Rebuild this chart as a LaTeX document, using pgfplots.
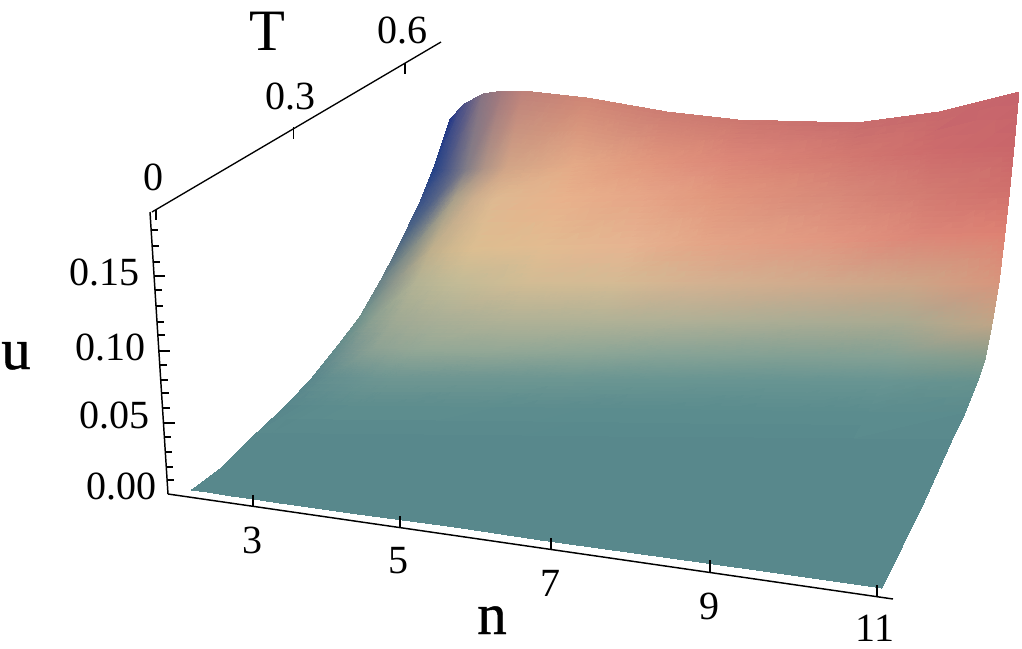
\documentclass[border=0pt]{standalone}
\usepackage{pgfplots}
\pgfplotsset{compat=1.18}
\usepackage{fontspec}
\setmainfont{Liberation Serif}
\newfontfamily\boldish[FakeBold=0.8]{Liberation Serif}
\newcommand{\tl}{\fontsize{30}{36}\selectfont}
\newcommand{\al}{\fontsize{44}{50}\selectfont}
\begin{document}
\begin{tikzpicture}[x=1pt,y=1pt]
\useasboundingbox (0,0) rectangle (766.5,486.75);
\begin{axis}[
  at={(0,0)},anchor=south west,
  scale only axis,width=766.5pt,height=486.75pt,
  xmin=0,xmax=1022,ymin=0,ymax=649,y dir=reverse,
  view={0}{90},hide axis,clip=false,
  unbounded coords=jump,
]
\addplot3[surf,shader=interp,mesh/color input=explicit,mesh/rows=12,mesh/cols=11,mesh/ordering=x varies]
 table[x=x,y=y,z=z,meta=c]{
x y z c
192 490 0 rgb255=86,134,139
208 492 0 rgb255=86,134,139
232 496 0 rgb255=86,134,139
254 499 0 rgb255=86,134,139
280 503 0 rgb255=86,134,139
358 514 0 rgb255=86,134,139
455 527 0 rgb255=86,134,139
541 540 0 rgb255=86,134,139
685 560 0 rgb255=86,134,139
785 574 0 rgb255=86,134,139
882 588 0 rgb255=86,134,139
223 467 0 rgb255=88,136,140
239 468 0 rgb255=88,136,140
264 469 0 rgb255=88,136,140
286 470 0 rgb255=88,136,140
313 471 0 rgb255=88,136,140
392 475 0 rgb255=88,136,140
490 480 0 rgb255=88,136,140
578 484 0 rgb255=88,136,140
725 491 0 rgb255=88,136,140
826 495 0 rgb255=88,136,140
925 500 0 rgb255=88,136,140
257 433 0 rgb255=88,136,140
273 433 0 rgb255=88,136,140
297 433 0 rgb255=88,136,140
320 434 0 rgb255=88,136,140
346 434 0 rgb255=88,136,140
424 435 0 rgb255=88,136,140
522 436 0 rgb255=88,136,140
609 437 0 rgb255=88,136,140
754 438 0 rgb255=88,136,140
854 439 0 rgb255=88,136,140
952 440 0 rgb255=88,136,140
287 405 0 rgb255=88,135,140
303 405 0 rgb255=90,138,141
326 405 0 rgb255=92,140,142
348 406 0 rgb255=93,141,142
374 406 0 rgb255=93,141,142
450 407 0 rgb255=93,141,142
545 408 0 rgb255=92,140,142
630 409 0 rgb255=91,140,142
772 411 0 rgb255=91,140,142
869 412 0 rgb255=91,140,142
965 413 0 rgb255=90,138,141
313 377 0 rgb255=90,135,140
328 377 0 rgb255=98,142,143
352 377 0 rgb255=104,146,145
373 378 0 rgb255=108,149,146
398 378 0 rgb255=110,150,146
473 378 0 rgb255=110,150,146
566 379 0 rgb255=108,150,146
649 380 0 rgb255=105,149,146
788 381 0 rgb255=103,148,146
883 382 0 rgb255=103,148,146
977 383 0 rgb255=100,145,142
337 347 0 rgb255=100,140,140
352 347 0 rgb255=120,150,145
375 348 0 rgb255=140,162,148
395 348 0 rgb255=145,165,149
420 349 0 rgb255=148,168,150
493 350 0 rgb255=148,168,150
584 352 0 rgb255=142,166,150
665 354 0 rgb255=135,163,150
800 356 0 rgb255=130,160,148
894 358 0 rgb255=130,160,148
985 360 0 rgb255=130,155,140
360 317 0 rgb255=110,145,140
375 317 0 rgb255=140,160,145
397 317 0 rgb255=160,170,148
417 318 0 rgb255=165,172,149
441 318 0 rgb255=170,175,150
513 318 0 rgb255=178,178,150
601 319 0 rgb255=178,178,150
680 320 0 rgb255=176,176,150
813 321 0 rgb255=170,172,148
904 321 0 rgb255=170,170,145
992 324 0 rgb255=190,165,135
380 282 0 rgb255=105,130,135
394 282 0 rgb255=140,150,140
416 282 0 rgb255=178,178,148
436 282 0 rgb255=187,183,149
459 282 0 rgb255=195,187,150
529 282 0 rgb255=210,188,148
616 282 0 rgb255=212,187,148
693 282 0 rgb255=212,178,145
823 283 0 rgb255=208,170,140
912 283 0 rgb255=205,165,135
999 283 0 rgb255=215,150,125
397 250 0 rgb255=85,110,130
411 250 0 rgb255=130,140,135
432 249 0 rgb255=190,175,140
452 249 0 rgb255=207,184,143
475 248 0 rgb255=220,190,145
544 246 0 rgb255=226,188,145
629 244 0 rgb255=230,180,145
705 241 0 rgb255=228,165,135
832 238 0 rgb255=225,150,128
919 235 0 rgb255=220,135,120
1005 233 0 rgb255=222,130,115
421 200 0 rgb255=55,80,135
435 200 0 rgb255=85,100,135
455 199 0 rgb255=170,160,138
474 199 0 rgb255=205,175,142
496 198 0 rgb255=222,185,145
563 197 0 rgb255=232,178,140
645 195 0 rgb255=230,165,135
719 193 0 rgb255=225,150,125
842 191 0 rgb255=215,135,120
927 189 0 rgb255=210,122,113
1010 187 0 rgb255=208,112,108
433 170 0 rgb255=35,65,135
446 169 0 rgb255=70,85,135
467 169 0 rgb255=130,125,135
485 168 0 rgb255=175,148,135
508 167 0 rgb255=210,165,135
574 164 0 rgb255=228,170,135
655 161 0 rgb255=225,150,125
728 158 0 rgb255=220,135,120
850 154 0 rgb255=210,120,112
933 150 0 rgb255=205,108,108
1014 147 0 rgb255=202,103,106
450 120 0 rgb255=35,55,135
463 105 0 rgb255=75,80,135
483 94 0 rgb255=135,115,130
503 91 0 rgb255=165,122,125
523 91 0 rgb255=190,130,122
587 98 0 rgb255=208,135,118
667 112 0 rgb255=205,125,115
738 120 0 rgb255=205,120,112
857 123 0 rgb255=200,110,110
939 112 0 rgb255=200,105,108
1019 92 0 rgb255=198,100,108
};
% axes
\addplot3[black,line width=1.1pt,mark=none] coordinates {(168,494,0) (893,599,0)};
\addplot3[black,line width=1.0pt,mark=none] coordinates {(152,212,0) (441,42,0)};
\addplot3[black,line width=1.1pt,mark=none] coordinates {(150,212,0) (168,494,0)};
% n ticks
\addplot3[black,line width=0.8pt,mark=none] coordinates {
(253,506,0) (253,495,0) (nan,nan,nan)
(400,527,0) (400,516,0) (nan,nan,nan)
(551,549,0) (551,538,0) (nan,nan,nan)
(710,572,0) (710,560,0) (nan,nan,nan)
(877,596,0) (877,585,0)};
% T ticks
\addplot3[black,line width=0.8pt,mark=none] coordinates {
(156,210,0) (156,220,0) (nan,nan,nan)
(293.5,127,0) (293.5,139,0) (nan,nan,nan)
(405,63,0) (405,74,0)};
% u ticks
\addplot3[black,line width=0.8pt,mark=none] coordinates {
(151,230,0) (158,230,0) (nan,nan,nan)
(152,246,0) (159,246,0) (nan,nan,nan)
(153,262,0) (160,262,0) (nan,nan,nan)
(154,276,0) (165,276,0) (nan,nan,nan)
(155,290,0) (162,290,0) (nan,nan,nan)
(156,306,0) (163,306,0) (nan,nan,nan)
(157,322,0) (164,322,0) (nan,nan,nan)
(158,335,0) (165,335,0) (nan,nan,nan)
(159,351,0) (170,351,0) (nan,nan,nan)
(160,365,0) (167,365,0) (nan,nan,nan)
(161,380,0) (168,380,0) (nan,nan,nan)
(162,393,0) (169,393,0) (nan,nan,nan)
(163,408,0) (170,408,0) (nan,nan,nan)
(164,423,0) (175,423,0) (nan,nan,nan)
(164.5,437,0) (171.5,437,0) (nan,nan,nan)
(165.5,452,0) (172.5,452,0) (nan,nan,nan)
(166,467,0) (173,467,0) (nan,nan,nan)
(167,480,0) (174,480,0)};
% labels
\node[inner sep=0pt,font=\al] at (axis cs:267,31,0) {T};
\node[inner sep=0pt,font=\tl] at (axis cs:403,30,0) {0.6};
\node[inner sep=0pt,font=\tl] at (axis cs:291,96,0) {0.3};
\node[inner sep=0pt,font=\tl] at (axis cs:154,177,0) {0};
\node[inner sep=0pt,font=\tl] at (axis cs:105,272,0) {0.15};
\node[inner sep=0pt,font=\tl] at (axis cs:111,347,0) {0.10};
\node[inner sep=0pt,font=\tl] at (axis cs:115,415,0) {0.05};
\node[inner sep=0pt,font=\tl] at (axis cs:121.5,486,0) {0.00};
\node[inner sep=0pt,font=\tl] at (axis cs:253,540,0) {3};
\node[inner sep=0pt,font=\tl] at (axis cs:399,561,0) {5};
\node[inner sep=0pt,font=\tl] at (axis cs:551,583,0) {7};
\node[inner sep=0pt,font=\tl] at (axis cs:710,606,0) {9};
\node[inner sep=0pt,font=\tl] at (axis cs:875,628,0) {11};
\node[inner sep=0pt,font=\al\boldish,anchor=base] at (axis cs:16,369,0) {u};
\node[inner sep=0pt,font=\al\boldish,anchor=base] at (axis cs:492,634,0) {n};
\end{axis}
\end{tikzpicture}
\end{document}
